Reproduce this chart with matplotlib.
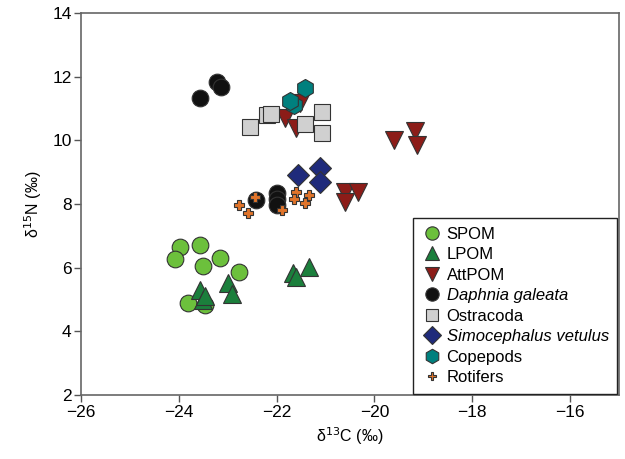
#!/usr/bin/env python3
import matplotlib
matplotlib.use('Agg')
from matplotlib import pyplot as plt

plt.rcParams['font.family'] = ['Liberation Sans', 'DejaVu Sans']

## data (d13C, d15N)
spom_x = [-23.97, -24.08, -23.56, -23.50, -23.16, -22.77, -23.81, -23.47]
spom_y = [6.66, 6.29, 6.71, 6.05, 6.32, 5.87, 4.90, 4.83]

lpom_x = [-23.56, -23.50, -23.47, -22.99, -22.92, -21.67, -21.60, -21.33]
lpom_y = [5.30, 4.98, 5.10, 5.51, 5.19, 5.82, 5.72, 6.03]

att_x = [-21.53, -21.84, -21.60, -19.59, -19.18, -19.12, -20.61, -20.34, -20.61]
att_y = [11.17, 10.69, 10.38, 10.00, 10.30, 9.85, 8.39, 8.39, 8.07]

daph_x = [-23.57, -23.23, -23.13, -22.43, -22.00, -22.00, -22.00]
daph_y = [11.34, 11.84, 11.68, 8.13, 8.34, 8.15, 7.97]

ostr_x = [-22.55, -22.20, -22.11, -21.43, -21.07, -21.07]
ostr_y = [10.43, 10.80, 10.83, 10.51, 10.90, 10.22]

simo_x = [-21.56, -21.12, -21.12]
simo_y = [8.91, 9.12, 8.70]

cope_x = [-21.65, -21.73, -21.43]
cope_y = [11.10, 11.24, 11.63]

roti_x = [-22.77, -22.59, -22.45, -21.90, -21.61, -21.65, -21.34, -21.42]
roti_y = [7.97, 7.73, 8.23, 7.81, 8.39, 8.15, 8.28, 8.02]

## label, x, y, marker, face colour, size, italic label
groups = [
    ('SPOM', spom_x, spom_y, 'o', '#6cc03c', 12, False),
    ('LPOM', lpom_x, lpom_y, '^', '#1b7f3c', 13, False),
    ('AttPOM', att_x, att_y, 'v', '#8c1c18', 13, False),
    ('Daphnia galeata', daph_x, daph_y, 'o', '#111111', 12, True),
    ('Ostracoda', ostr_x, ostr_y, 's', '#d0d0d0', 11, False),
    ('Simocephalus vetulus', simo_x, simo_y, 'D', '#1f2b7b', 11, True),
    ('Copepods', cope_x, cope_y, 'h', '#00807e', 13, False),
    ('Rotifers', roti_x, roti_y, 'P', '#e0742a', 7.5, False),
]

fig = plt.figure(figsize=(6.25, 4.59), dpi=100)
ax = fig.add_axes([0.130, 0.139, 0.860, 0.833])

for lab, xs, ys, mk, col, ms, it in groups:
    ax.plot(xs, ys, linestyle='none', marker=mk, markersize=ms,
            markerfacecolor=col, markeredgecolor='#333333',
            markeredgewidth=0.8, label=lab)

ax.set_xlim(-26, -15)
ax.set_ylim(2, 14)
ax.set_xticks([-26, -24, -22, -20, -18, -16])
ax.set_yticks([2, 4, 6, 8, 10, 12, 14])
ax.tick_params(direction='out', length=5, width=1, color='#555555',
               labelsize=12.5, pad=2)
for s in ax.spines.values():
    s.set_color('#666666')
    s.set_linewidth(1.2)

ax.set_xlabel('δ$^{13}$C (‰)', fontsize=11.5, labelpad=4)
ax.set_ylabel('δ$^{15}$N (‰)', fontsize=11.5, labelpad=6)

leg = ax.legend(loc='lower right', fontsize=12, frameon=True, fancybox=False,
                framealpha=1, edgecolor='#222222', borderaxespad=0.1,
                handletextpad=0.3, handlelength=1.2, labelspacing=0.33,
                borderpad=0.5, markerscale=0.8)
leg.get_frame().set_linewidth(1.0)
for txt, g in zip(leg.get_texts(), groups):
    if g[6]:
        txt.set_fontstyle('italic')

fig.savefig('out.png', dpi=100)
